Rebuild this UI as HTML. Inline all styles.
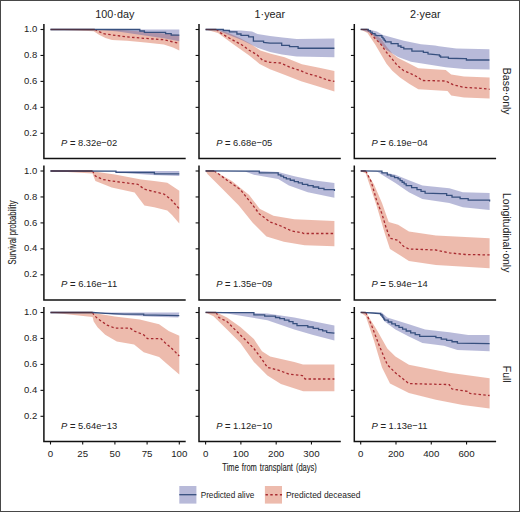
<!DOCTYPE html>
<html><head><meta charset="utf-8"><style>
html,body{margin:0;padding:0;background:#fff;}
body{width:520px;height:512px;overflow:hidden;}
svg{display:block;}
text{font-family:"Liberation Sans",sans-serif;fill:#222;stroke:#222;stroke-width:0px;}
</style></head><body>
<svg width="520" height="512" viewBox="0 0 520 512">
<rect x="0" y="0" width="520" height="512" fill="#fff"/>
<polygon points="50.5,29.5 95,29.5 120,30 145.4,31.8 179.3,35.1 179.3,50.5 173,47.5 163.8,44.5 145.4,42.5 126.9,40.8 112,40.1 105.5,38 99,34.8 93.7,31.3 77.5,30.5 50.5,29.6" fill="#d55d3c" fill-opacity="0.42"/>
<polygon points="50.5,29.5 179.3,29.5 179.3,41.2 163.8,38.2 139.8,34.8 117.7,31.6 100,29.7 50.5,29.5" fill="#5a5fa8" fill-opacity="0.43"/>
<polyline points="94.8,29.5 103.4,33.7 112,34.9 126.9,36.9 145.4,38.4 163.8,39.7 171.2,41.5 179.3,43.4" fill="none" stroke="#a82a30" stroke-width="1.3" stroke-dasharray="2.5 2.3"/>
<polyline points="50.5,29.5 139.8,29.5 139.8,31 144.4,31 144.4,32.3 165.6,32.3 165.6,33.6 171.2,33.6 171.2,35.1 179.3,35.1" fill="none" stroke="#37507f" stroke-width="1.3" stroke-linejoin="miter"/>
<path d="M50.5,29.5H94.8" stroke="#4d3345" stroke-width="1.4"/>
<path d="M43.9,23.9V158.5H185.7" fill="none" stroke="#111111" stroke-width="1.5"/>
<path d="M40.5,29.5H43.9" stroke="#111111" stroke-width="1.1"/>
<text x="37.2" y="32.1" text-anchor="end" font-size="9.5">1.0</text>
<path d="M40.5,55.45H43.9" stroke="#111111" stroke-width="1.1"/>
<text x="37.2" y="58.05" text-anchor="end" font-size="9.5">0.8</text>
<path d="M40.5,81.4H43.9" stroke="#111111" stroke-width="1.1"/>
<text x="37.2" y="84" text-anchor="end" font-size="9.5">0.6</text>
<path d="M40.5,107.35H43.9" stroke="#111111" stroke-width="1.1"/>
<text x="37.2" y="109.95" text-anchor="end" font-size="9.5">0.4</text>
<path d="M40.5,133.3H43.9" stroke="#111111" stroke-width="1.1"/>
<text x="37.2" y="135.9" text-anchor="end" font-size="9.5">0.2</text>
<text x="61.1" y="145.7" font-size="9.6" textLength="56.1" lengthAdjust="spacingAndGlyphs"><tspan font-style="italic">P</tspan> <tspan font-weight="bold">=</tspan> 8.32e−02</text>
<polygon points="205.6,29.5 216.2,29.6 227.4,32.5 240.4,38.2 250,43.5 260.4,50.4 270.8,53.8 284.6,57.3 301.9,64.2 319.2,67.7 334.4,71.1 334.4,91.5 318.4,86.5 301.1,81.3 283.8,74.4 270,69.2 259.6,64 249.2,55.4 231.9,43.3 218,32.9 205.6,29.5" fill="#d55d3c" fill-opacity="0.42"/>
<polygon points="205.6,29.5 223,29.5 231.5,30.2 241,30.5 252,31.6 257.5,34 270,35.9 282.5,37.6 296.6,38.9 334.4,38.4 334.4,57.2 296.6,56.4 282,54.5 270,52 257.5,47.8 241,39.8 227,34.3 217.8,30.2 205.6,29.5" fill="#5a5fa8" fill-opacity="0.43"/>
<polyline points="216.4,29.5 220.5,32.9 227,36.8 235.4,41.5 242,45 249.2,50.2 256.9,54.7 263,60.6 270,62.3 280.3,63 290.7,67.5 301.1,70.9 307.1,73.5 318.4,76.6 327.9,80.2 334.4,81.3" fill="none" stroke="#a82a30" stroke-width="1.3" stroke-dasharray="2.5 2.3"/>
<polyline points="205.6,29.5 223.3,29.5 223.3,30.5 229.4,30.5 229.4,31.85 236.9,31.85 236.9,34 241,34 241,35.3 248.6,35.3 248.6,36.8 253.4,36.8 253.4,41.2 263.6,41.2 263.6,42.5 270,43.1 281.7,43.1 281.7,45.4 289.5,45.4 289.5,46.7 298.1,46.7 298.1,48.25 334.4,48.25" fill="none" stroke="#37507f" stroke-width="1.3" stroke-linejoin="miter"/>
<path d="M205.6,29.5H216.4" stroke="#4d3345" stroke-width="1.4"/>
<path d="M199,23.9V158.5H340.8" fill="none" stroke="#111111" stroke-width="1.5"/>
<path d="M195.6,29.5H199" stroke="#111111" stroke-width="1.1"/>
<path d="M195.6,55.45H199" stroke="#111111" stroke-width="1.1"/>
<path d="M195.6,81.4H199" stroke="#111111" stroke-width="1.1"/>
<path d="M195.6,107.35H199" stroke="#111111" stroke-width="1.1"/>
<path d="M195.6,133.3H199" stroke="#111111" stroke-width="1.1"/>
<text x="216.2" y="145.7" font-size="9.6" textLength="56.1" lengthAdjust="spacingAndGlyphs"><tspan font-style="italic">P</tspan> <tspan font-weight="bold">=</tspan> 6.68e−05</text>
<polygon points="360.7,29.5 369,30.6 375,35 380.8,38.5 386.5,46.5 392.3,53.5 398.1,58 409.6,63.8 418.3,68.2 445.7,70 451.2,74.6 464,76.5 489.6,77.4 489.6,98.4 464,97.5 451.2,95.6 447.5,91.1 418.3,89.3 409.1,83.8 400,77.4 392.3,70.8 386.5,63.8 375,44.2 367.5,32.9 360.7,29.5" fill="#d55d3c" fill-opacity="0.42"/>
<polygon points="360.7,29.5 368.3,29.3 376.9,31.4 383,35 403.8,40.8 421,44.2 435,45.4 439,46.2 456.25,48.6 489.4,49.3 489.6,69.5 464,69.1 445.7,67.3 411,61.8 398.1,56.9 386.5,50 378.4,41.5 370.6,32.9 360.7,29.5" fill="#5a5fa8" fill-opacity="0.43"/>
<polyline points="367.5,29.5 375,38.5 380.8,44.2 386.5,52.3 392.3,59.2 396.9,65 403.8,70.8 409.1,72.8 418.3,77.4 422,80.5 445.7,81 453,84.7 464,87.4 480.4,88.3 489.6,89.3" fill="none" stroke="#a82a30" stroke-width="1.3" stroke-dasharray="2.5 2.3"/>
<polyline points="360.7,29.3 368.3,29.3 368.3,30.6 370.25,30.6 370.25,32.15 372.2,32.15 372.2,33.7 375,33.7 375,35 377.3,35.6 381.9,35.6 381.9,37.3 383.07,37.3 383.07,38.83 384.23,38.83 384.23,40.37 385.4,40.37 385.4,41.9 391.1,41.9 391.1,43.7 398.1,43.7 398.1,46 400.95,46 400.95,47.4 403.8,47.4 403.8,48.8 411.9,48.8 411.9,51.1 423.4,51.1 423.4,52.3 428,52.3 428,54 438.3,54.8 439.45,54.8 439.45,56 440.6,56 440.6,57.2 448.4,57.2 448.4,58.25 464.8,58.7 466.4,58.7 466.4,60 489.4,60" fill="none" stroke="#37507f" stroke-width="1.3" stroke-linejoin="miter"/>
<path d="M360.7,29.5H367.5" stroke="#4d3345" stroke-width="1.4"/>
<path d="M354.3,23.9V158.5H496.1" fill="none" stroke="#111111" stroke-width="1.5"/>
<path d="M350.9,29.5H354.3" stroke="#111111" stroke-width="1.1"/>
<path d="M350.9,55.45H354.3" stroke="#111111" stroke-width="1.1"/>
<path d="M350.9,81.4H354.3" stroke="#111111" stroke-width="1.1"/>
<path d="M350.9,107.35H354.3" stroke="#111111" stroke-width="1.1"/>
<path d="M350.9,133.3H354.3" stroke="#111111" stroke-width="1.1"/>
<text x="371.5" y="145.7" font-size="9.6" textLength="56.1" lengthAdjust="spacingAndGlyphs"><tspan font-style="italic">P</tspan> <tspan font-weight="bold">=</tspan> 6.19e−04</text>
<polygon points="50.5,171 92.1,171.2 115,174.5 141.1,179.4 154.2,181 167.3,182.7 179.3,190.8 179.3,223.5 172,215 167.3,210.5 154.2,207.2 144.4,205.6 134.6,192.5 111.7,187.6 95.4,181 92.5,173.5 50.5,171" fill="#d55d3c" fill-opacity="0.42"/>
<polygon points="50.5,171 179.3,171 179.3,175.9 151.7,175.1 119.4,172.5 114,171.3 50.5,171" fill="#5a5fa8" fill-opacity="0.43"/>
<polyline points="92.5,171 95.4,176.1 103,179.5 111.7,181 124.8,182.7 137.8,184.3 144.4,189.2 157.5,192.5 164,194.1 170.5,199 179.3,208.8" fill="none" stroke="#a82a30" stroke-width="1.3" stroke-dasharray="2.5 2.3"/>
<polyline points="50.5,171 114,171.1 116,171.1 116,172.3 151.7,172.5 154.4,172.5 154.4,173.8 179.3,173.8" fill="none" stroke="#37507f" stroke-width="1.3" stroke-linejoin="miter"/>
<path d="M50.5,171H92.5" stroke="#4d3345" stroke-width="1.4"/>
<path d="M43.9,165.4V300H185.7" fill="none" stroke="#111111" stroke-width="1.5"/>
<path d="M40.5,171H43.9" stroke="#111111" stroke-width="1.1"/>
<text x="37.2" y="173.6" text-anchor="end" font-size="9.5">1.0</text>
<path d="M40.5,196.95H43.9" stroke="#111111" stroke-width="1.1"/>
<text x="37.2" y="199.55" text-anchor="end" font-size="9.5">0.8</text>
<path d="M40.5,222.9H43.9" stroke="#111111" stroke-width="1.1"/>
<text x="37.2" y="225.5" text-anchor="end" font-size="9.5">0.6</text>
<path d="M40.5,248.85H43.9" stroke="#111111" stroke-width="1.1"/>
<text x="37.2" y="251.45" text-anchor="end" font-size="9.5">0.4</text>
<path d="M40.5,274.8H43.9" stroke="#111111" stroke-width="1.1"/>
<text x="37.2" y="277.4" text-anchor="end" font-size="9.5">0.2</text>
<text x="61.1" y="287.2" font-size="9.6" textLength="56.1" lengthAdjust="spacingAndGlyphs"><tspan font-style="italic">P</tspan> <tspan font-weight="bold">=</tspan> 6.16e−11</text>
<polygon points="205.6,171 214.6,171.3 231.9,181.1 249.2,195 259.6,208.8 273.4,215.7 294.2,219.2 334.4,220.9 334.4,246.2 304.6,245.2 283.8,241.7 266.5,236.5 252.7,222.7 238.8,205.4 221.5,188 207.7,174.2 205.6,171" fill="#d55d3c" fill-opacity="0.42"/>
<polygon points="205.6,171 253.9,170.8 278.2,172.1 294.3,176.2 313.2,180.2 334.4,182.9 334.4,197.7 307.8,192.3 288.9,185.6 278.2,178.9 253.9,174.8 245,171.4 205.6,171" fill="#5a5fa8" fill-opacity="0.43"/>
<polyline points="214,171 216.2,172.1 227,180.2 240.4,189.6 251.2,203.1 259.3,213.9 270.1,222 280.9,226 291.9,231 302.4,232.8 304,233.5 334.4,233.5" fill="none" stroke="#a82a30" stroke-width="1.3" stroke-dasharray="2.5 2.3"/>
<polyline points="205.6,170.9 245.8,171.1 259.3,171.1 259.3,172.9 278.2,172.9 278.2,174.8 280.9,174.8 280.9,176.17 283.6,176.17 283.6,177.53 286.3,177.53 286.3,178.9 290.3,178.9 290.3,180.25 294.3,180.25 294.3,181.6 298.35,181.6 298.35,182.95 302.4,182.95 302.4,184.3 307.8,184.3 307.8,185.65 313.2,185.65 313.2,187 318.6,187 318.6,188.3 324,188.3 324,189.6 334.4,189.6 334.4,191" fill="none" stroke="#37507f" stroke-width="1.3" stroke-linejoin="miter"/>
<path d="M205.6,171H214" stroke="#4d3345" stroke-width="1.4"/>
<path d="M199,165.4V300H340.8" fill="none" stroke="#111111" stroke-width="1.5"/>
<path d="M195.6,171H199" stroke="#111111" stroke-width="1.1"/>
<path d="M195.6,196.95H199" stroke="#111111" stroke-width="1.1"/>
<path d="M195.6,222.9H199" stroke="#111111" stroke-width="1.1"/>
<path d="M195.6,248.85H199" stroke="#111111" stroke-width="1.1"/>
<path d="M195.6,274.8H199" stroke="#111111" stroke-width="1.1"/>
<text x="216.2" y="287.2" font-size="9.6" textLength="56.1" lengthAdjust="spacingAndGlyphs"><tspan font-style="italic">P</tspan> <tspan font-weight="bold">=</tspan> 1.35e−09</text>
<polygon points="360.7,171 365.8,170.9 373.9,184.3 382,203.1 388.7,222 398.1,224.7 408.9,231.4 435.9,235.5 489.6,238.2 489.6,268.3 435.9,265 408.9,261.1 400.8,255.7 390,248.9 384.6,232.8 376.6,205.8 365.8,173.5 360.7,171" fill="#d55d3c" fill-opacity="0.42"/>
<polygon points="360.7,171 376.6,170.8 395.4,174.8 408.9,180.2 422.4,185.6 449.3,188.3 462.8,192.3 489.6,192.9 489.6,209.9 462.8,207.2 449.3,203.1 422.4,199.1 408.9,192.3 395.4,182.9 382,174.8 376.6,171.3 360.7,171" fill="#5a5fa8" fill-opacity="0.43"/>
<polyline points="365.8,171 371.2,181.6 376.6,200.4 382,213.9 386,227.4 390,238.2 398.1,240.4 403.5,246.3 408.9,249 435.9,250 449.3,252.8 465.5,254.5 489.6,254.9" fill="none" stroke="#a82a30" stroke-width="1.3" stroke-dasharray="2.5 2.3"/>
<polyline points="360.7,170.8 376.6,171.1 381.95,171.1 381.95,172.95 387.3,172.95 387.3,174.8 390.9,174.8 390.9,176.17 394.5,176.17 394.5,177.53 398.1,177.53 398.1,178.9 400.12,178.9 400.12,180.57 402.15,180.57 402.15,182.25 404.18,182.25 404.18,183.93 406.2,183.93 406.2,185.6 411.6,185.6 411.6,187.6 417,187.6 417,189.6 421.05,189.6 421.05,191.4 425.1,191.4 425.1,193.2 441.3,193.7 446.65,193.7 446.65,195.45 452,195.45 452,197.2 460.1,197.2 460.1,198.7 468.2,198.7 468.2,200.2 489.6,200.2 489.6,201.6" fill="none" stroke="#37507f" stroke-width="1.3" stroke-linejoin="miter"/>
<path d="M360.7,171H365.8" stroke="#4d3345" stroke-width="1.4"/>
<path d="M354.3,165.4V300H496.1" fill="none" stroke="#111111" stroke-width="1.5"/>
<path d="M350.9,171H354.3" stroke="#111111" stroke-width="1.1"/>
<path d="M350.9,196.95H354.3" stroke="#111111" stroke-width="1.1"/>
<path d="M350.9,222.9H354.3" stroke="#111111" stroke-width="1.1"/>
<path d="M350.9,248.85H354.3" stroke="#111111" stroke-width="1.1"/>
<path d="M350.9,274.8H354.3" stroke="#111111" stroke-width="1.1"/>
<text x="371.5" y="287.2" font-size="9.6" textLength="56.1" lengthAdjust="spacingAndGlyphs"><tspan font-style="italic">P</tspan> <tspan font-weight="bold">=</tspan> 5.94e−14</text>
<polygon points="50.5,312.5 93.7,312.9 114.8,316.6 139.8,319.5 159.1,324.3 168.7,331 179.3,335.8 179.3,374.5 166.8,363.7 159.1,357 143.7,352.2 134.1,344.5 116.8,341.6 105.2,334.8 97.5,327.2 93.7,321.4 92.6,317 50.5,312.5" fill="#d55d3c" fill-opacity="0.42"/>
<polygon points="50.5,312.5 179.3,312.5 178.4,317.5 153,316.7 114,314.7 100,312.8 50.5,312.5" fill="#5a5fa8" fill-opacity="0.43"/>
<polyline points="92.6,312.5 93.7,314.7 97.5,318.5 107.2,325.2 114.8,328.1 130.2,328.1 134.1,331 143.7,334.8 147.5,338.7 161,338.7 164.8,342.5 170.6,347.3 179.3,356" fill="none" stroke="#a82a30" stroke-width="1.3" stroke-dasharray="2.5 2.3"/>
<polyline points="50.5,312.5 92.6,312.5 105.2,313.3 124.5,314.1 143.7,314.1 143.7,315.2 155.2,315.2 179.3,315.6" fill="none" stroke="#37507f" stroke-width="1.3" stroke-linejoin="miter"/>
<path d="M50.5,312.5H92.6" stroke="#4d3345" stroke-width="1.4"/>
<path d="M43.9,306.9V441.5H185.7" fill="none" stroke="#111111" stroke-width="1.5"/>
<path d="M40.5,312.5H43.9" stroke="#111111" stroke-width="1.1"/>
<text x="37.2" y="315.1" text-anchor="end" font-size="9.5">1.0</text>
<path d="M40.5,338.45H43.9" stroke="#111111" stroke-width="1.1"/>
<text x="37.2" y="341.05" text-anchor="end" font-size="9.5">0.8</text>
<path d="M40.5,364.4H43.9" stroke="#111111" stroke-width="1.1"/>
<text x="37.2" y="367" text-anchor="end" font-size="9.5">0.6</text>
<path d="M40.5,390.35H43.9" stroke="#111111" stroke-width="1.1"/>
<text x="37.2" y="392.95" text-anchor="end" font-size="9.5">0.4</text>
<path d="M40.5,416.3H43.9" stroke="#111111" stroke-width="1.1"/>
<text x="37.2" y="418.9" text-anchor="end" font-size="9.5">0.2</text>
<path d="M50.5,441.5V444.5" stroke="#111111" stroke-width="1.1"/>
<text x="50.5" y="457" text-anchor="middle" font-size="9.7">0</text>
<path d="M82.7,441.5V444.5" stroke="#111111" stroke-width="1.1"/>
<text x="82.7" y="457" text-anchor="middle" font-size="9.7">25</text>
<path d="M114.9,441.5V444.5" stroke="#111111" stroke-width="1.1"/>
<text x="114.9" y="457" text-anchor="middle" font-size="9.7">50</text>
<path d="M147.1,441.5V444.5" stroke="#111111" stroke-width="1.1"/>
<text x="147.1" y="457" text-anchor="middle" font-size="9.7">75</text>
<path d="M179.3,441.5V444.5" stroke="#111111" stroke-width="1.1"/>
<text x="179.3" y="457" text-anchor="middle" font-size="9.7">100</text>
<text x="61.1" y="428.7" font-size="9.6" textLength="56.1" lengthAdjust="spacingAndGlyphs"><tspan font-style="italic">P</tspan> <tspan font-weight="bold">=</tspan> 5.64e−13</text>
<polygon points="205.6,312.5 216.2,312.3 227,317.5 240.4,327 253.9,339.1 262,351.2 270.1,356.6 294.3,362 303,364.4 334.4,364.4 334.4,391.3 303.2,391.2 280.9,384 267.4,375.5 253.9,362 240.4,343.1 227,329.6 213.5,316.2 205.6,312.5" fill="#d55d3c" fill-opacity="0.42"/>
<polygon points="205.6,312.5 227,312.1 267.4,313.5 294.3,317.5 334.4,325.6 334.4,340.4 313.2,335 294.3,329.6 267.4,320.2 227,313.5 205.6,312.5" fill="#5a5fa8" fill-opacity="0.43"/>
<polyline points="216.2,312.5 218.9,317.5 227,321.6 235,329.6 245.8,340.4 253.9,348.5 262,359.3 267.4,367.4 278.2,370.1 288.9,374.1 302.4,375.5 305.1,379 334.4,379" fill="none" stroke="#a82a30" stroke-width="1.3" stroke-dasharray="2.5 2.3"/>
<polyline points="205.6,312.3 224.3,312.7 253.9,312.7 253.9,314.8 264.7,314.8 264.7,316.15 275.5,316.15 275.5,317.5 279.8,317.5 279.8,318.7 284.4,318.7 284.4,320.15 289,320.15 289,321.6 293,321.6 293,323.6 297,323.6 297,325.6 307.8,325.6 307.8,327 313.2,327 313.2,328.3 318.6,328.3 318.6,329.6 322.65,329.6 322.65,330.95 326.7,330.95 326.7,332.3 334.4,333.2" fill="none" stroke="#37507f" stroke-width="1.3" stroke-linejoin="miter"/>
<path d="M205.6,312.5H216.2" stroke="#4d3345" stroke-width="1.4"/>
<path d="M199,306.9V441.5H340.8" fill="none" stroke="#111111" stroke-width="1.5"/>
<path d="M195.6,312.5H199" stroke="#111111" stroke-width="1.1"/>
<path d="M195.6,338.45H199" stroke="#111111" stroke-width="1.1"/>
<path d="M195.6,364.4H199" stroke="#111111" stroke-width="1.1"/>
<path d="M195.6,390.35H199" stroke="#111111" stroke-width="1.1"/>
<path d="M195.6,416.3H199" stroke="#111111" stroke-width="1.1"/>
<path d="M205.6,441.5V444.5" stroke="#111111" stroke-width="1.1"/>
<text x="205.6" y="457" text-anchor="middle" font-size="9.7">0</text>
<path d="M240.89,441.5V444.5" stroke="#111111" stroke-width="1.1"/>
<text x="240.89" y="457" text-anchor="middle" font-size="9.7">100</text>
<path d="M276.18,441.5V444.5" stroke="#111111" stroke-width="1.1"/>
<text x="276.18" y="457" text-anchor="middle" font-size="9.7">200</text>
<path d="M311.46,441.5V444.5" stroke="#111111" stroke-width="1.1"/>
<text x="311.46" y="457" text-anchor="middle" font-size="9.7">300</text>
<text x="216.2" y="428.7" font-size="9.6" textLength="56.1" lengthAdjust="spacingAndGlyphs"><tspan font-style="italic">P</tspan> <tspan font-weight="bold">=</tspan> 1.12e−10</text>
<polygon points="360.7,312.5 365.8,312.3 376.6,329.6 387.3,348.5 395.4,356.6 408.9,364.7 449.3,372.8 489.6,378.2 489.6,408.5 462.8,405.1 435.9,399.7 408.9,393 390,383.6 382,367.4 373.9,340.4 365.8,316.2 360.7,312.5" fill="#d55d3c" fill-opacity="0.42"/>
<polygon points="360.7,312.5 382,312.8 387.3,317.5 408.9,324.3 425.1,329.6 449.3,332.3 468.2,335 489.6,335 489.6,351.2 457.4,349.9 444,345.8 422.4,343.1 408.9,336.4 395.4,329.6 384.6,321.6 379,313.5 360.7,312.5" fill="#5a5fa8" fill-opacity="0.43"/>
<polyline points="365.8,312.5 371.2,324.3 379.3,345.8 387.3,364.7 395.4,372.8 408.9,383.6 449.3,384.6 452,389 468.2,391.5 470,393.5 489.6,395.5" fill="none" stroke="#a82a30" stroke-width="1.3" stroke-dasharray="2.5 2.3"/>
<polyline points="360.7,312.3 372.6,313 379.3,313.5 380.65,313.5 380.65,314.75 382,314.75 382,316 382.87,316 382.87,317.4 383.73,317.4 383.73,318.8 384.6,318.8 384.6,320.2 388.2,320.2 388.2,322 391.8,322 391.8,323.8 395.4,323.8 395.4,325.6 399,325.6 399,327.4 402.6,327.4 402.6,329.2 406.2,329.2 406.2,331 410.7,331 410.7,332.8 415.2,332.8 415.2,334.6 419.7,334.6 419.7,336.4 435.9,336.4 435.9,337.7 441.25,337.7 441.25,339.05 446.6,339.05 446.6,340.4 452,340.4 452,341.75 457.4,341.75 457.4,343.1 489.6,343.7" fill="none" stroke="#37507f" stroke-width="1.3" stroke-linejoin="miter"/>
<path d="M360.7,312.5H365.8" stroke="#4d3345" stroke-width="1.4"/>
<path d="M354.3,306.9V441.5H496.1" fill="none" stroke="#111111" stroke-width="1.5"/>
<path d="M350.9,312.5H354.3" stroke="#111111" stroke-width="1.1"/>
<path d="M350.9,338.45H354.3" stroke="#111111" stroke-width="1.1"/>
<path d="M350.9,364.4H354.3" stroke="#111111" stroke-width="1.1"/>
<path d="M350.9,390.35H354.3" stroke="#111111" stroke-width="1.1"/>
<path d="M350.9,416.3H354.3" stroke="#111111" stroke-width="1.1"/>
<path d="M360.7,441.5V444.5" stroke="#111111" stroke-width="1.1"/>
<text x="360.7" y="457" text-anchor="middle" font-size="9.7">0</text>
<path d="M395.99,441.5V444.5" stroke="#111111" stroke-width="1.1"/>
<text x="395.99" y="457" text-anchor="middle" font-size="9.7">200</text>
<path d="M431.28,441.5V444.5" stroke="#111111" stroke-width="1.1"/>
<text x="431.28" y="457" text-anchor="middle" font-size="9.7">400</text>
<path d="M466.56,441.5V444.5" stroke="#111111" stroke-width="1.1"/>
<text x="466.56" y="457" text-anchor="middle" font-size="9.7">600</text>
<text x="371.5" y="428.7" font-size="9.6" textLength="56.1" lengthAdjust="spacingAndGlyphs"><tspan font-style="italic">P</tspan> <tspan font-weight="bold">=</tspan> 1.13e−11</text>
<text x="114.8" y="18.0" text-anchor="middle" font-size="10.8">100·day</text>
<text x="269.9" y="18.0" text-anchor="middle" font-size="10.8">1·year</text>
<text x="425.2" y="18.0" text-anchor="middle" font-size="10.8">2·year</text>
<text transform="translate(503,91.2) rotate(90)" text-anchor="middle" font-size="10.5">Base·only</text>
<text transform="translate(503,232.7) rotate(90)" text-anchor="middle" font-size="10.5">Longitudinal·only</text>
<text transform="translate(503,374.2) rotate(90)" text-anchor="middle" font-size="10.5">Full</text>
<text transform="translate(15.5,232.5) rotate(-90)" text-anchor="middle" style="stroke-width:0.1px" font-size="10.2" textLength="64" lengthAdjust="spacingAndGlyphs">Survival probability</text>
<text x="269.6" y="471.1" text-anchor="middle" font-size="10.4" style="stroke-width:0.1px" word-spacing="1.2" textLength="94.5" lengthAdjust="spacingAndGlyphs">Time from transplant (days)</text>
<rect x="179.3" y="486" width="17.1" height="17.6" fill="#5a5fa8" fill-opacity="0.43"/>
<path d="M179.3,494.7H196.4" stroke="#37507f" stroke-width="1.3"/>
<text x="200.7" y="498" font-size="9.5" textLength="53.6" lengthAdjust="spacingAndGlyphs">Predicted alive</text>
<rect x="264.9" y="486" width="17.1" height="17.6" fill="#d55d3c" fill-opacity="0.42"/>
<path d="M264.9,494.7H282" stroke="#a82a30" stroke-width="1.4" stroke-dasharray="2.4 2.4" stroke-dashoffset="-0.6"/>
<text x="285.9" y="498" font-size="9.5" textLength="74.6" lengthAdjust="spacingAndGlyphs">Predicted deceased</text>
<rect x="0.5" y="0.5" width="519" height="511" fill="none" stroke="#474747" stroke-width="1"/>
</svg>
</body></html>
